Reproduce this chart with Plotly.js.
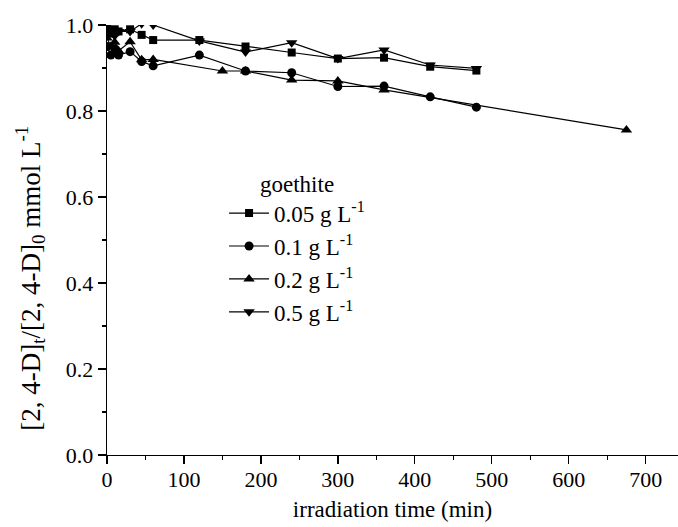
<!DOCTYPE html>
<html>
<head>
<meta charset="utf-8">
<script src="https://cdn.plot.ly/plotly-3.0.1.min.js"></script>
<style>html,body{margin:0;padding:0;background:#fff;}#chart{width:678px;height:527px;}</style>
</head>
<body>
<div id="chart"></div>
<script>
// irradiation time (min) and normalised concentration for each goethite dose
const seriesNames = ['0.05 g L<sup>-1</sup>', '0.1 g L<sup>-1</sup>', '0.2 g L<sup>-1</sup>', '0.5 g L<sup>-1</sup>'];

const time005 = [0, 5, 10, 15, 30, 45, 60, 120, 180, 240, 300, 360, 420, 480];
const conc005 = [1.0, 0.98, 0.99, 0.985, 0.99, 0.977, 0.965, 0.965, 0.95, 0.936, 0.922, 0.924, 0.903, 0.894];

const time01 = [0, 5, 10, 15, 30, 45, 60, 120, 180, 240, 300, 360, 420, 480];
const conc01 = [0.95, 0.93, 0.945, 0.93, 0.938, 0.915, 0.905, 0.93, 0.893, 0.889, 0.857, 0.858, 0.833, 0.809];

const time02 = [0, 5, 10, 15, 30, 45, 60, 150, 180, 240, 300, 360, 675];
const conc02 = [0.97, 0.95, 0.96, 0.94, 0.961, 0.919, 0.92, 0.893, 0.893, 0.872, 0.87, 0.849, 0.756];

const time05 = [0, 5, 10, 15, 30, 45, 60, 120, 180, 240, 300, 360, 420, 480];
const conc05 = [1.0, 0.99, 0.975, 0.985, 0.985, 1.003, 1.0, 0.963, 0.937, 0.959, 0.922, 0.942, 0.907, 0.899];

const xTickVals = [0, 100, 200, 300, 400, 500, 600, 700];
const yTickVals = [0.0, 0.2, 0.4, 0.6, 0.8, 1.0];

const font = '"Liberation Serif", "Times New Roman", serif';
const symbols = ['square', 'circle', 'triangle-up', 'triangle-down'];
const sizes = [8, 9, 10, 10];
const xs = [time005, time01, time02, time05];
const ys = [conc005, conc01, conc02, conc05];

const traces = xs.map((x, i) => ({
  x: x, y: ys[i], name: seriesNames[i], type: 'scatter', mode: 'lines+markers',
  line: {color: '#000', width: 1.2},
  marker: {symbol: symbols[i], size: sizes[i], color: '#000'},
  legendgroup: 'g' + i
}));

const layout = {
  width: 678, height: 527,
  margin: {l: 107, r: 0, t: 25, b: 72},
  paper_bgcolor: '#fff', plot_bgcolor: '#fff',
  font: {family: font, size: 22, color: '#000'},
  showlegend: true,
  legend: {
    x: 0.205, y: 0.682, xanchor: 'left', yanchor: 'top',
    bgcolor: 'rgba(0,0,0,0)', borderwidth: 0,
    itemwidth: 40,
    font: {family: font, size: 23, color: '#000'},
    title: {text: 'goethite', side: 'top center', font: {family: font, size: 23, color: '#000'}},
    tracegroupgap: 0
  },
  xaxis: {
    range: [0, 742], tickvals: xTickVals, ticktext: xTickVals.map(String),
    ticks: 'outside', ticklen: 8, tickwidth: 1.3, tickcolor: '#000',
    minor: {dtick: 50, tick0: 0, ticks: 'outside', ticklen: 4, tickwidth: 1.3, tickcolor: '#000', showgrid: false},
    showline: true, linecolor: '#000', linewidth: 1.3, showgrid: false, zeroline: false,
    ticklabelstandoff: -4,
    tickfont: {family: font, size: 22, color: '#000'},
    title: {text: 'irradiation time (min)', font: {family: font, size: 23, color: '#000'}, standoff: 10}
  },
  yaxis: {
    range: [0, 1.0], tickvals: yTickVals, ticktext: yTickVals.map(v => v.toFixed(1)),
    ticks: 'outside', ticklen: 8, tickwidth: 1.3, tickcolor: '#000',
    minor: {dtick: 0.1, tick0: 0, ticks: 'outside', ticklen: 4, tickwidth: 1.3, tickcolor: '#000', showgrid: false},
    showline: true, linecolor: '#000', linewidth: 1.3, showgrid: false, zeroline: false,
    tickfont: {family: font, size: 22, color: '#000'}
  },
  annotations: [{
    text: '[2, 4-D]<sub>t</sub>/[2, 4-D]<sub>0</sub> mmol L<sup>-1</sup>',
    textangle: -90, xref: 'paper', yref: 'paper', x: 0, y: 0.41,
    xanchor: 'center', yanchor: 'middle', xshift: -77, showarrow: false,
    font: {family: font, size: 27, color: '#000'}
  }]
};

Plotly.newPlot('chart', traces, layout, {displayModeBar: false, staticPlot: true});
</script>
</body>
</html>
